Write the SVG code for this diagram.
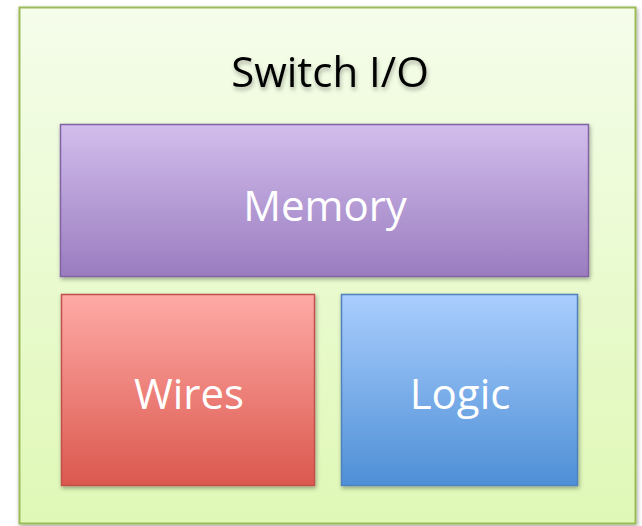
<svg xmlns="http://www.w3.org/2000/svg" width="642" height="526" viewBox="0 0 642 526">
<defs>
<linearGradient id="gOuter" x1="0" y1="0" x2="0" y2="1"><stop offset="0" stop-color="#f5fdeb"/><stop offset="1" stop-color="#dff8b6"/></linearGradient>
<linearGradient id="gMem" x1="0" y1="0" x2="0" y2="1"><stop offset="0" stop-color="#d2beed"/><stop offset="1" stop-color="#9a7cbf"/></linearGradient>
<linearGradient id="gWire" x1="0" y1="0" x2="0" y2="1"><stop offset="0" stop-color="#ffaaa6"/><stop offset="1" stop-color="#db584e"/></linearGradient>
<linearGradient id="gLogic" x1="0" y1="0" x2="0" y2="1"><stop offset="0" stop-color="#aacefe"/><stop offset="1" stop-color="#4e8fd6"/></linearGradient>
<filter id="sh" x="-10%" y="-10%" width="120%" height="120%"><feDropShadow dx="1" dy="2" stdDeviation="2" flood-color="#000" flood-opacity="0.35"/></filter>
<filter id="tsh" x="-10%" y="-20%" width="120%" height="150%"><feDropShadow dx="1" dy="3" stdDeviation="2" flood-color="#000" flood-opacity="0.3"/></filter>
</defs>
<style>
.lbl{font-family:"Open Sans","Liberation Sans",sans-serif;font-size:42px;text-anchor:middle;fill:#ffffff}
.title{font-family:"Open Sans","Liberation Sans",sans-serif;font-size:42px;text-anchor:middle;fill:#000000}
</style>
<g id="switch-io">
<rect x="19.5" y="7.5" width="616" height="516" fill="url(#gOuter)" stroke="#9bbb59" stroke-width="2" filter="url(#sh)"/>
<text class="title" x="330" y="87" filter="url(#tsh)">Switch I/O</text>
</g>
<g id="memory">
<rect x="60.5" y="124.5" width="528" height="152" fill="url(#gMem)" stroke="#8064a2" stroke-width="1.5" filter="url(#sh)"/>
<text class="lbl" x="325" y="221">Memory</text>
</g>
<g id="wires">
<rect x="61.5" y="294.5" width="253" height="191" fill="url(#gWire)" stroke="#c0504d" stroke-width="1.5" filter="url(#sh)"/>
<text class="lbl" x="189" y="409">Wires</text>
</g>
<g id="logic">
<rect x="341.5" y="294.5" width="236" height="191" fill="url(#gLogic)" stroke="#4f81bd" stroke-width="1.5" filter="url(#sh)"/>
<text class="lbl" x="460" y="409">Logic</text>
</g>
<g id="connectors"/>
</svg>
